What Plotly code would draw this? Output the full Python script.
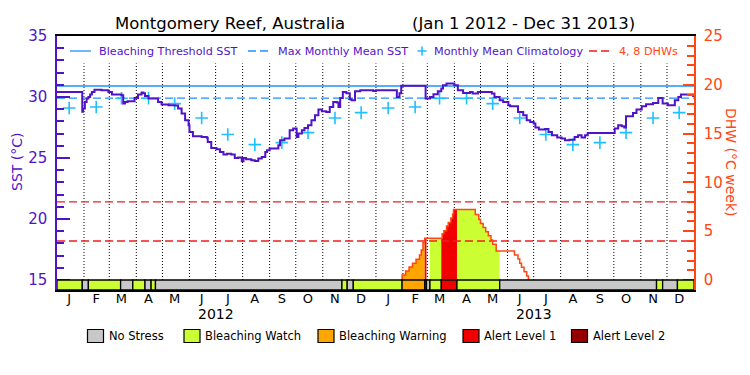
import pandas as pd
import plotly.graph_objects as go

# ---------------- data ----------------
month_letters = list("JFMAMJJASOND")
years = [2012, 2013]
period_start = "2012-01-01"
period_end = "2014-01-01"

sst_dates = [
    "2012-01-01", "2012-01-30", "2012-01-31", "2012-02-02", "2012-02-04", "2012-02-06", "2012-02-08",
    "2012-02-10", "2012-02-13", "2012-02-21", "2012-02-29", "2012-03-04", "2012-03-15", "2012-03-17",
    "2012-03-19", "2012-03-22", "2012-03-30", "2012-04-03", "2012-04-07", "2012-04-09", "2012-04-11",
    "2012-04-15", "2012-04-22", "2012-04-26", "2012-04-30", "2012-05-08", "2012-05-15", "2012-05-19",
    "2012-05-23", "2012-05-27", "2012-05-31", "2012-06-01", "2012-06-05", "2012-06-15", "2012-06-21",
    "2012-06-22", "2012-06-26", "2012-07-02", "2012-07-06", "2012-07-10", "2012-07-14", "2012-07-19",
    "2012-07-23", "2012-07-27", "2012-07-31", "2012-08-02", "2012-08-05", "2012-08-11", "2012-08-15",
    "2012-08-19", "2012-08-23", "2012-08-27", "2012-08-29", "2012-09-01", "2012-09-11", "2012-09-13",
    "2012-09-18", "2012-09-24", "2012-09-28", "2012-10-02", "2012-10-04", "2012-10-08", "2012-10-11",
    "2012-10-15", "2012-10-19", "2012-10-23", "2012-10-27", "2012-10-31", "2012-11-05", "2012-11-09",
    "2012-11-13", "2012-11-17", "2012-11-19", "2012-11-21", "2012-11-24", "2012-11-28", "2012-12-02",
    "2012-12-04", "2012-12-08", "2012-12-14", "2012-12-29",
    "2013-01-01", "2013-01-25", "2013-01-28", "2013-01-30", "2013-02-27", "2013-03-04", "2013-03-08",
    "2013-03-13", "2013-03-17", "2013-03-19", "2013-03-23", "2013-03-29", "2013-04-01", "2013-04-05",
    "2013-04-11", "2013-04-19", "2013-04-22", "2013-04-28", "2013-05-10", "2013-05-14", "2013-05-17",
    "2013-05-23", "2013-05-27", "2013-06-02", "2013-06-04", "2013-06-09", "2013-06-13", "2013-06-19",
    "2013-06-23", "2013-06-27", "2013-07-01", "2013-07-03", "2013-07-07", "2013-07-14", "2013-07-18",
    "2013-07-22", "2013-07-28", "2013-08-02", "2013-08-06", "2013-08-11", "2013-08-17", "2013-08-21",
    "2013-08-25", "2013-08-29", "2013-09-01", "2013-09-28", "2013-10-02", "2013-10-06", "2013-10-10",
    "2013-10-13", "2013-10-15", "2013-10-23", "2013-10-27", "2013-11-02", "2013-11-07", "2013-11-15",
    "2013-11-21", "2013-11-26", "2013-12-02", "2013-12-10", "2013-12-14", "2013-12-17", "2013-12-27",
    "2013-12-31",
]
sst_values = [
    30.40, 28.80, 29.05, 29.60, 29.87, 30.00, 30.20,
    30.41, 30.60, 30.55, 30.41, 30.20, 30.14, 29.46,
    29.60, 29.65, 29.92, 30.20, 30.36, 30.30, 30.08,
    29.87, 29.87, 29.60, 29.38, 29.32, 29.30, 29.05,
    28.64, 28.09, 27.68, 27.13, 26.78, 26.72, 26.65,
    26.31, 25.82, 25.71, 25.49, 25.28, 25.35, 25.28,
    25.00, 25.05, 24.73, 25.00, 24.89, 24.81, 24.75,
    24.95, 25.08, 25.49, 25.63, 25.77, 26.04, 26.45,
    26.59, 27.27, 27.41, 26.72, 27.00, 27.27, 27.46,
    27.68, 28.09, 28.50, 28.97, 28.83, 28.77, 29.18,
    29.60, 29.55, 29.18, 29.92, 30.41, 30.30, 29.81,
    29.73, 30.47, 30.55, 30.50,
    30.55, 30.00, 30.30, 30.92, 29.87, 30.00, 30.22,
    30.47, 30.69, 30.96, 31.10, 31.10, 30.96, 30.55,
    30.33, 30.40, 30.28, 30.41, 30.41, 30.28, 30.00,
    29.73, 29.60, 29.32, 29.24, 29.24, 28.77, 28.50,
    28.09, 27.95, 27.82, 27.49, 27.33, 27.38, 27.13,
    26.86, 26.67, 26.59, 26.45, 26.50, 26.72, 26.86,
    26.67, 26.86, 27.05, 27.05, 27.41, 27.68, 27.60,
    27.49, 28.42, 28.69, 28.97, 29.24, 29.40, 29.51,
    29.92, 29.46, 29.32, 29.73, 30.00, 30.20, 30.20,
    30.00,
]

clim_values = [29.10, 29.18, 29.90, 29.90, 29.46, 28.28, 26.92, 26.10, 26.26, 27.08, 28.28, 28.72]
mmm_sst = 29.90
threshold_sst = 30.90
dhw_guides = [4, 8]

dhw_dates = [
    "2013-01-31", "2013-01-31", "2013-02-04", "2013-02-08", "2013-02-12", "2013-02-16", "2013-02-20",
    "2013-02-22", "2013-02-24", "2013-02-26", "2013-03-18", "2013-03-20", "2013-03-23", "2013-03-25",
    "2013-03-28", "2013-03-30", "2013-03-31", "2013-04-25", "2013-04-29", "2013-05-01", "2013-05-04",
    "2013-05-07", "2013-05-10", "2013-05-13", "2013-05-15", "2013-05-19", "2013-06-09", "2013-06-13",
    "2013-06-15", "2013-06-17", "2013-06-20", "2013-06-23", "2013-06-25",
]
dhw_values = [
    0.0, 0.51, 0.92, 1.33, 1.71, 2.12, 2.56,
    3.07, 3.82, 4.27, 4.74, 5.05, 5.53, 5.90,
    6.35, 6.76, 7.23, 6.72, 6.21, 5.80, 5.39,
    4.95, 4.54, 4.10, 3.66, 2.97, 2.56, 2.15,
    1.71, 1.30, 0.85, 0.41, 0.0,
]

stress_dates = [
    "2012-01-01", "2012-01-30", "2012-02-06", "2012-03-14", "2012-03-28", "2012-04-11", "2012-04-18",
    "2012-04-23", "2012-11-23", "2012-11-29", "2012-12-06", "2013-01-31", "2013-02-26", "2013-02-28",
    "2013-03-04", "2013-03-17", "2013-04-04", "2013-05-23", "2013-11-19", "2013-11-26", "2013-12-13",
]
stress_codes = [1, 0, 1, 0, 1, 0, 1, 0, 1, 0, 1, 2, 3, 0, 1, 3, 1, 0, 1, 0, 1]
stress_names = ["No Stress", "Bleaching Watch", "Bleaching Warning", "Alert Level 1", "Alert Level 2"]
stress_colors = ["#c8c8c8", "#ccff33", "#ffa500", "#f00000", "#960000"]

# ---------------- style ----------------
OFF = 8                      # page body margin
W, H = 750 - OFF, 375 - OFF
RL, RR, RT, RB = 57, 694, 36, 290   # plot area in window pixels
Y_MIN, Y_MAX = 14.18, 35.0
Y2_MIN, Y2_MAX = -1.02, 25.0
GRID_TOP = 32.75
PURPLE = "#5014c8"
ORANGE = "#ff4614"
BLUE = "#1e90ff"
CYAN = "#20c0ff"
DHW_RED = "#f01e1e"
FONT = "DejaVu Sans"


def px(xp):
    return (xp - RL) / (RR - RL)


def py(yp):
    return (RB - yp) / (RB - RT)


fig = go.Figure()

# stress-coloured fills under DHW
d_dates = pd.to_datetime(dhw_dates)
s_dates = pd.to_datetime(stress_dates)
s_ends = list(s_dates[1:]) + [pd.Timestamp(period_end)]


def dhw_at(t):
    v = 0.0
    for d, val in zip(d_dates, dhw_values):
        if d <= t:
            v = val
        else:
            break
    return v


for s, e, code in zip(s_dates, s_ends, stress_codes):
    if code == 0:
        continue
    xs = [s]
    ys = [dhw_at(s)]
    for d, val in zip(d_dates, dhw_values):
        if s < d < e:
            xs.append(d)
            ys.append(val)
    xs.append(e)
    ys.append(ys[-1])
    if max(ys) <= 0:
        continue
    fig.add_trace(go.Scatter(x=xs, y=ys, yaxis="y2", mode="lines", line=dict(width=0, shape="hv"),
                             fill="tozeroy", fillcolor=stress_colors[code], hoverinfo="skip",
                             showlegend=False))

# DHW guide lines
for g in dhw_guides:
    fig.add_trace(go.Scatter(x=[period_start, period_end], y=[g, g], yaxis="y2", mode="lines",
                             line=dict(color=DHW_RED, width=1.3, dash="8px,4px"), showlegend=False))

# DHW line
fig.add_trace(go.Scatter(x=dhw_dates, y=dhw_values, yaxis="y2", mode="lines",
                         line=dict(color=ORANGE, width=1.5, shape="hv"), showlegend=False))

# threshold & MMM
fig.add_trace(go.Scatter(x=[period_start, period_end], y=[threshold_sst, threshold_sst], mode="lines",
                         line=dict(color=BLUE, width=1.3), showlegend=False))
fig.add_trace(go.Scatter(x=[period_start, period_end], y=[mmm_sst, mmm_sst], mode="lines",
                         line=dict(color=BLUE, width=1.3, dash="8px,4px"), showlegend=False))

# climatology
clim_x = [f"{y}-{m:02d}-15" for y in years for m in range(1, 13)]
clim_y = clim_values * len(years)
fig.add_trace(go.Scatter(x=clim_x, y=clim_y, mode="markers",
                         marker=dict(symbol="cross-thin", size=9, line=dict(color=CYAN, width=1.6)),
                         showlegend=False))

# SST
fig.add_trace(go.Scatter(x=sst_dates, y=sst_values, mode="lines",
                         line=dict(color=PURPLE, width=2, shape="hv"), showlegend=False))

shapes = []
# month gridlines
for d in pd.date_range("2012-02-01", "2013-12-01", freq="MS"):
    shapes.append(dict(type="line", xref="x", yref="y", x0=d, x1=d, y0=15, y1=GRID_TOP,
                       line=dict(color="black", width=1, dash="1px,2px"), layer="below"))
# stress bar
for s, e, code in zip(s_dates, s_ends, stress_codes):
    shapes.append(dict(type="rect", xref="x", yref="y", x0=s, x1=e, y0=Y_MIN, y1=15,
                       fillcolor=stress_colors[code], line=dict(color="black", width=1.3), layer="above"))

annotations = []
# title
annotations.append(dict(text="Montgomery Reef, Australia", xref="paper", yref="paper", x=px(113), y=py(23),
                        xanchor="left", yanchor="middle", showarrow=False,
                        font=dict(family=FONT, size=16.5, color="black")))
annotations.append(dict(text="(Jan 1 2012 - Dec 31 2013)", xref="paper", yref="paper", x=px(410), y=py(23),
                        xanchor="left", yanchor="middle", showarrow=False,
                        font=dict(family=FONT, size=16.5, color="black")))

# top legend
LY = 51
shapes.append(dict(type="line", xref="paper", yref="paper", x0=px(70), x1=px(91), y0=py(LY), y1=py(LY),
                   line=dict(color=BLUE, width=1.3)))
shapes.append(dict(type="line", xref="paper", yref="paper", x0=px(248), x1=px(270), y0=py(LY), y1=py(LY),
                   line=dict(color=BLUE, width=1.3, dash="8px,4px")))
shapes.append(dict(type="line", xref="paper", yref="paper", x0=px(417.5), x1=px(426.5), y0=py(LY), y1=py(LY),
                   line=dict(color=CYAN, width=1.6)))
shapes.append(dict(type="line", xref="paper", yref="paper", x0=px(422), x1=px(422), y0=py(LY - 4.5),
                   y1=py(LY + 4.5), line=dict(color=CYAN, width=1.6)))
shapes.append(dict(type="line", xref="paper", yref="paper", x0=px(589), x1=px(610), y0=py(LY), y1=py(LY),
                   line=dict(color=DHW_RED, width=1.3, dash="8px,4px")))
for txt, xp, col in [("Bleaching Threshold SST", 97, PURPLE), ("Max Monthly Mean SST", 276, PURPLE),
                     ("Monthly Mean Climatology", 432, PURPLE), ("4, 8 DHWs", 617, ORANGE)]:
    annotations.append(dict(text=txt, xref="paper", yref="paper", x=px(xp), y=py(LY), xanchor="left",
                            yanchor="middle", showarrow=False, font=dict(family=FONT, size=11.2, color=col)))

# axis titles
annotations.append(dict(text="SST (°C)", xref="paper", yref="paper", x=px(17), y=py(162), textangle=-90,
                        xanchor="center", yanchor="middle", showarrow=False,
                        font=dict(family=FONT, size=14, color=PURPLE)))
annotations.append(dict(text="DHW (°C week)", xref="paper", yref="paper", x=px(731), y=py(162), textangle=90,
                        xanchor="center", yanchor="middle", showarrow=False,
                        font=dict(family=FONT, size=14, color=ORANGE)))

# year labels
for y in years:
    annotations.append(dict(text=str(y), xref="x", yref="paper", x=f"{y}-07-01", y=py(314), xanchor="center",
                            yanchor="middle", showarrow=False, font=dict(family=FONT, size=14, color="black")))

# bottom legend
BY = 336
box_x = [87.5, 184, 318, 463, 571.5]
for name, col, bx in zip(stress_names, stress_colors, box_x):
    shapes.append(dict(type="rect", xref="paper", yref="paper", x0=px(bx), x1=px(bx + 16), y0=py(BY + 6.5),
                       y1=py(BY - 6.5), fillcolor=col, line=dict(color="black", width=1.2)))
    annotations.append(dict(text=name, xref="paper", yref="paper", x=px(bx + 19), y=py(BY), xanchor="left",
                            yanchor="middle", showarrow=False, font=dict(family=FONT, size=11.5, color="black")))

tick_x = [f"{y}-{m:02d}-15" for y in years for m in range(1, 13)]
tick_t = month_letters * len(years)

fig.update_layout(
    width=W, height=H,
    margin=dict(l=RL - OFF, r=W - (RR - OFF), t=RT - OFF, b=H - (RB - OFF), pad=0),
    paper_bgcolor="white", plot_bgcolor="white",
    showlegend=False,
    shapes=shapes, annotations=annotations,
    xaxis=dict(type="date", range=[period_start, period_end], tickmode="array", tickvals=tick_x,
               ticktext=tick_t, ticks="", showgrid=False, zeroline=False, showline=True, mirror=True,
               linecolor="black", linewidth=1.5, ticklabelstandoff=-4,
               tickfont=dict(family=FONT, size=13, color="black")),
    yaxis=dict(range=[Y_MIN, Y_MAX], tickmode="linear", tick0=0, dtick=5, ticks="inside", ticklen=13,
               tickwidth=1.5, tickcolor=PURPLE, showgrid=False, zeroline=False, showline=True,
               linecolor=PURPLE, linewidth=1.5, ticklabelstandoff=5,
               tickfont=dict(family=FONT, size=15, color=PURPLE),
               minor=dict(dtick=1, tick0=0, ticks="inside", ticklen=7, tickwidth=1.5, tickcolor=PURPLE,
                          showgrid=False)),
    yaxis2=dict(range=[Y2_MIN, Y2_MAX], overlaying="y", side="right", tickmode="linear", tick0=0, dtick=5,
                ticks="inside", ticklen=11, tickwidth=1.5, tickcolor=ORANGE, showgrid=False, zeroline=False,
                showline=True, linecolor=ORANGE, linewidth=1.5, ticklabelstandoff=5,
                tickfont=dict(family=FONT, size=15, color=ORANGE),
                minor=dict(dtick=1, tick0=0, ticks="inside", ticklen=7, tickwidth=1.5, tickcolor=ORANGE,
                           showgrid=False)),
)

fig.write_html("out.html")
